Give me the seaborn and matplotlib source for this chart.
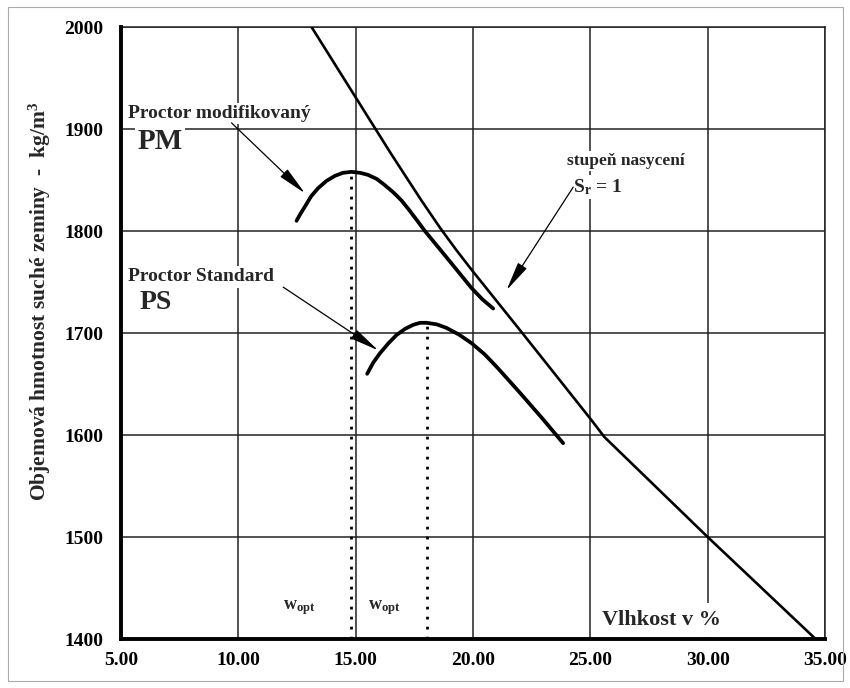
import matplotlib
matplotlib.use("Agg")
import matplotlib.pyplot as plt
import matplotlib.patches as mpatches
import seaborn as sns
import pandas as pd

# ------------------------------------
# Data
# ------------------------------------
# saturation line S_r = 1
sat_w = [13.12, 15.0, 16.5, 17.8, 18.6, 19.3, 19.94, 22.1, 25.0, 25.6, 30.0, 34.6]
sat_rho = [2000, 1931, 1876, 1830, 1803, 1781, 1762, 1700, 1616, 1598, 1500, 1400]

# Proctor modifikovany
pm_w = [12.48, 12.65, 12.84, 13.1, 13.40, 13.75, 14.11, 14.45, 14.82, 15.2, 15.53,
        15.9, 16.24, 16.6, 16.95, 17.3, 17.66, 17.95, 18.95, 19.94, 20.4, 20.86]
pm_rho = [1810, 1817, 1824, 1834, 1842, 1849, 1854, 1857, 1858, 1857, 1855,
          1851, 1845, 1838, 1830, 1820, 1809, 1800, 1772, 1744, 1733, 1724]

# Proctor Standard
ps_w = [15.49, 15.75, 16.03, 16.4, 16.74, 17.1, 17.45, 17.75, 18.02, 18.45, 18.87,
        19.4, 19.94, 20.5, 21.0, 21.55, 22.13, 23.0, 23.84]
ps_rho = [1660, 1671, 1680, 1690, 1698, 1704, 1708, 1710, 1710, 1708.5, 1705,
          1698.5, 1690, 1679, 1667, 1653, 1638, 1615, 1592]

# optimum moisture
wopt = [14.78, 18.02]
wopt_rho = [1858, 1710]

x_ticks = [5, 10, 15, 20, 25, 30, 35]
y_ticks = [1400, 1500, 1600, 1700, 1800, 1900, 2000]

# ------------------------------------
# Style
# ------------------------------------
sns.set_style("white")
plt.rcParams["font.family"] = ["Liberation Serif", "DejaVu Serif"]
plt.rcParams["font.weight"] = "bold"
plt.rcParams["mathtext.fontset"] = "custom"
plt.rcParams["mathtext.rm"] = "Liberation Serif:bold"
plt.rcParams["mathtext.it"] = "Liberation Serif:bold"
plt.rcParams["mathtext.bf"] = "Liberation Serif:bold"

fig = plt.figure(figsize=(8.5, 6.88), dpi=100)
ax = fig.add_axes([121 / 850, 49 / 688, 704 / 850, 612 / 688])

# figure border
fig.patches.append(mpatches.Rectangle((8 / 850, 7 / 688), 835 / 850, 674 / 688,
                                      transform=fig.transFigure, fill=False,
                                      edgecolor="#aaaaaa", lw=0.8))

# grid and axes
ax.set_xlim(5, 35)
ax.set_ylim(1400, 2000)
ax.set_xticks(x_ticks)
ax.set_yticks(y_ticks)
ax.set_xticklabels([f"{t:.2f}" for t in x_ticks], fontsize=14, fontweight="bold")
ax.set_yticklabels([str(t) for t in y_ticks], fontsize=14, fontweight="bold")
ax.grid(True, color="#222222", lw=1.1)
ax.set_axisbelow(True)
ax.tick_params(direction="inout", length=9, width=2.2, colors="black")
ax.tick_params(axis="y", pad=8)
ax.tick_params(axis="x", pad=5)

for side in ["left", "bottom"]:
    ax.spines[side].set_linewidth(2.8)
    ax.spines[side].set_color("black")
    ax.spines[side].set_zorder(6)
for side in ["top", "right"]:
    ax.spines[side].set_linewidth(1.1)
    ax.spines[side].set_color("#222222")

# ------------------------------------
# Curves
# ------------------------------------
sat_df = pd.DataFrame({"w": sat_w, "rho": sat_rho})
pm_df = pd.DataFrame({"w": pm_w, "rho": pm_rho})
ps_df = pd.DataFrame({"w": ps_w, "rho": ps_rho})

sns.lineplot(data=sat_df, x="w", y="rho", sort=False, color="black", lw=1.9, ax=ax,
             zorder=5)
sns.lineplot(data=pm_df, x="w", y="rho", sort=False, color="black", lw=2.7, ax=ax,
             solid_capstyle="round", solid_joinstyle="round")
sns.lineplot(data=ps_df, x="w", y="rho", sort=False, color="black", lw=2.7, ax=ax,
             solid_capstyle="round", solid_joinstyle="round")

# dotted optimum lines
for w, r in zip(wopt, wopt_rho):
    ax.plot([w, w], [1400, r], color="black", lw=2.0, ls=(0, (1, 2.6)))

# ------------------------------------
# Labels (white boxes break the grid lines)
# ------------------------------------
box = dict(facecolor="white", edgecolor="none", pad=1.5)
ax.text(5.3, 1915, "Proctor modifikovaný", fontsize=14, fontweight="bold",
        ha="left", va="center", bbox=box, zorder=3)
ax.text(5.7, 1888, "PM", fontsize=21, fontweight="bold", ha="left", va="center",
        bbox=box, zorder=3)
ax.text(5.3, 1755, "Proctor Standard", fontsize=14, fontweight="bold",
        ha="left", va="center", bbox=box, zorder=3)
ax.text(5.8, 1730, "PS", fontsize=20, fontweight="bold", ha="left", va="center",
        bbox=box, zorder=3)
ax.text(24.0, 1869, "stupeň nasycení", fontsize=12.5, fontweight="bold",
        ha="left", va="center", bbox=box, zorder=3)
ax.text(24.25, 1843, r"S$_\mathrm{r}$ = 1", fontsize=14, fontweight="bold",
        ha="left", va="center", bbox=box, zorder=3)
ax.text(12.58, 1431, r"w$_\mathrm{opt}$", fontsize=13, fontweight="bold",
        ha="center", va="center", zorder=3)
ax.text(16.22, 1431, r"w$_\mathrm{opt}$", fontsize=13, fontweight="bold",
        ha="center", va="center", zorder=3)
ax.text(28.05, 1419, "Vlhkost v %", fontsize=16, fontweight="bold",
        ha="center", va="center", bbox=dict(facecolor="white", edgecolor="none", pad=5),
        zorder=3)

# arrows
arrow = dict(arrowstyle="-|>,head_length=1.8,head_width=0.32", color="black",
             lw=0.9, shrinkA=0, shrinkB=0)
ax.annotate("", xy=(12.84, 1837), xytext=(9.71, 1906), arrowprops=arrow, zorder=4)
ax.annotate("", xy=(15.96, 1683), xytext=(11.91, 1745), arrowprops=arrow, zorder=4)
ax.annotate("", xy=(21.43, 1742), xytext=(24.27, 1843), arrowprops=arrow, zorder=4)

ax.set_xlabel("")
ax.set_ylabel("Objemová hmotnost suché zeminy  -  kg/m$^3$", fontsize=15.5,
              fontweight="bold")
ax.yaxis.set_label_coords(-0.097, 0.551)

plt.savefig("out.png", dpi=100)
